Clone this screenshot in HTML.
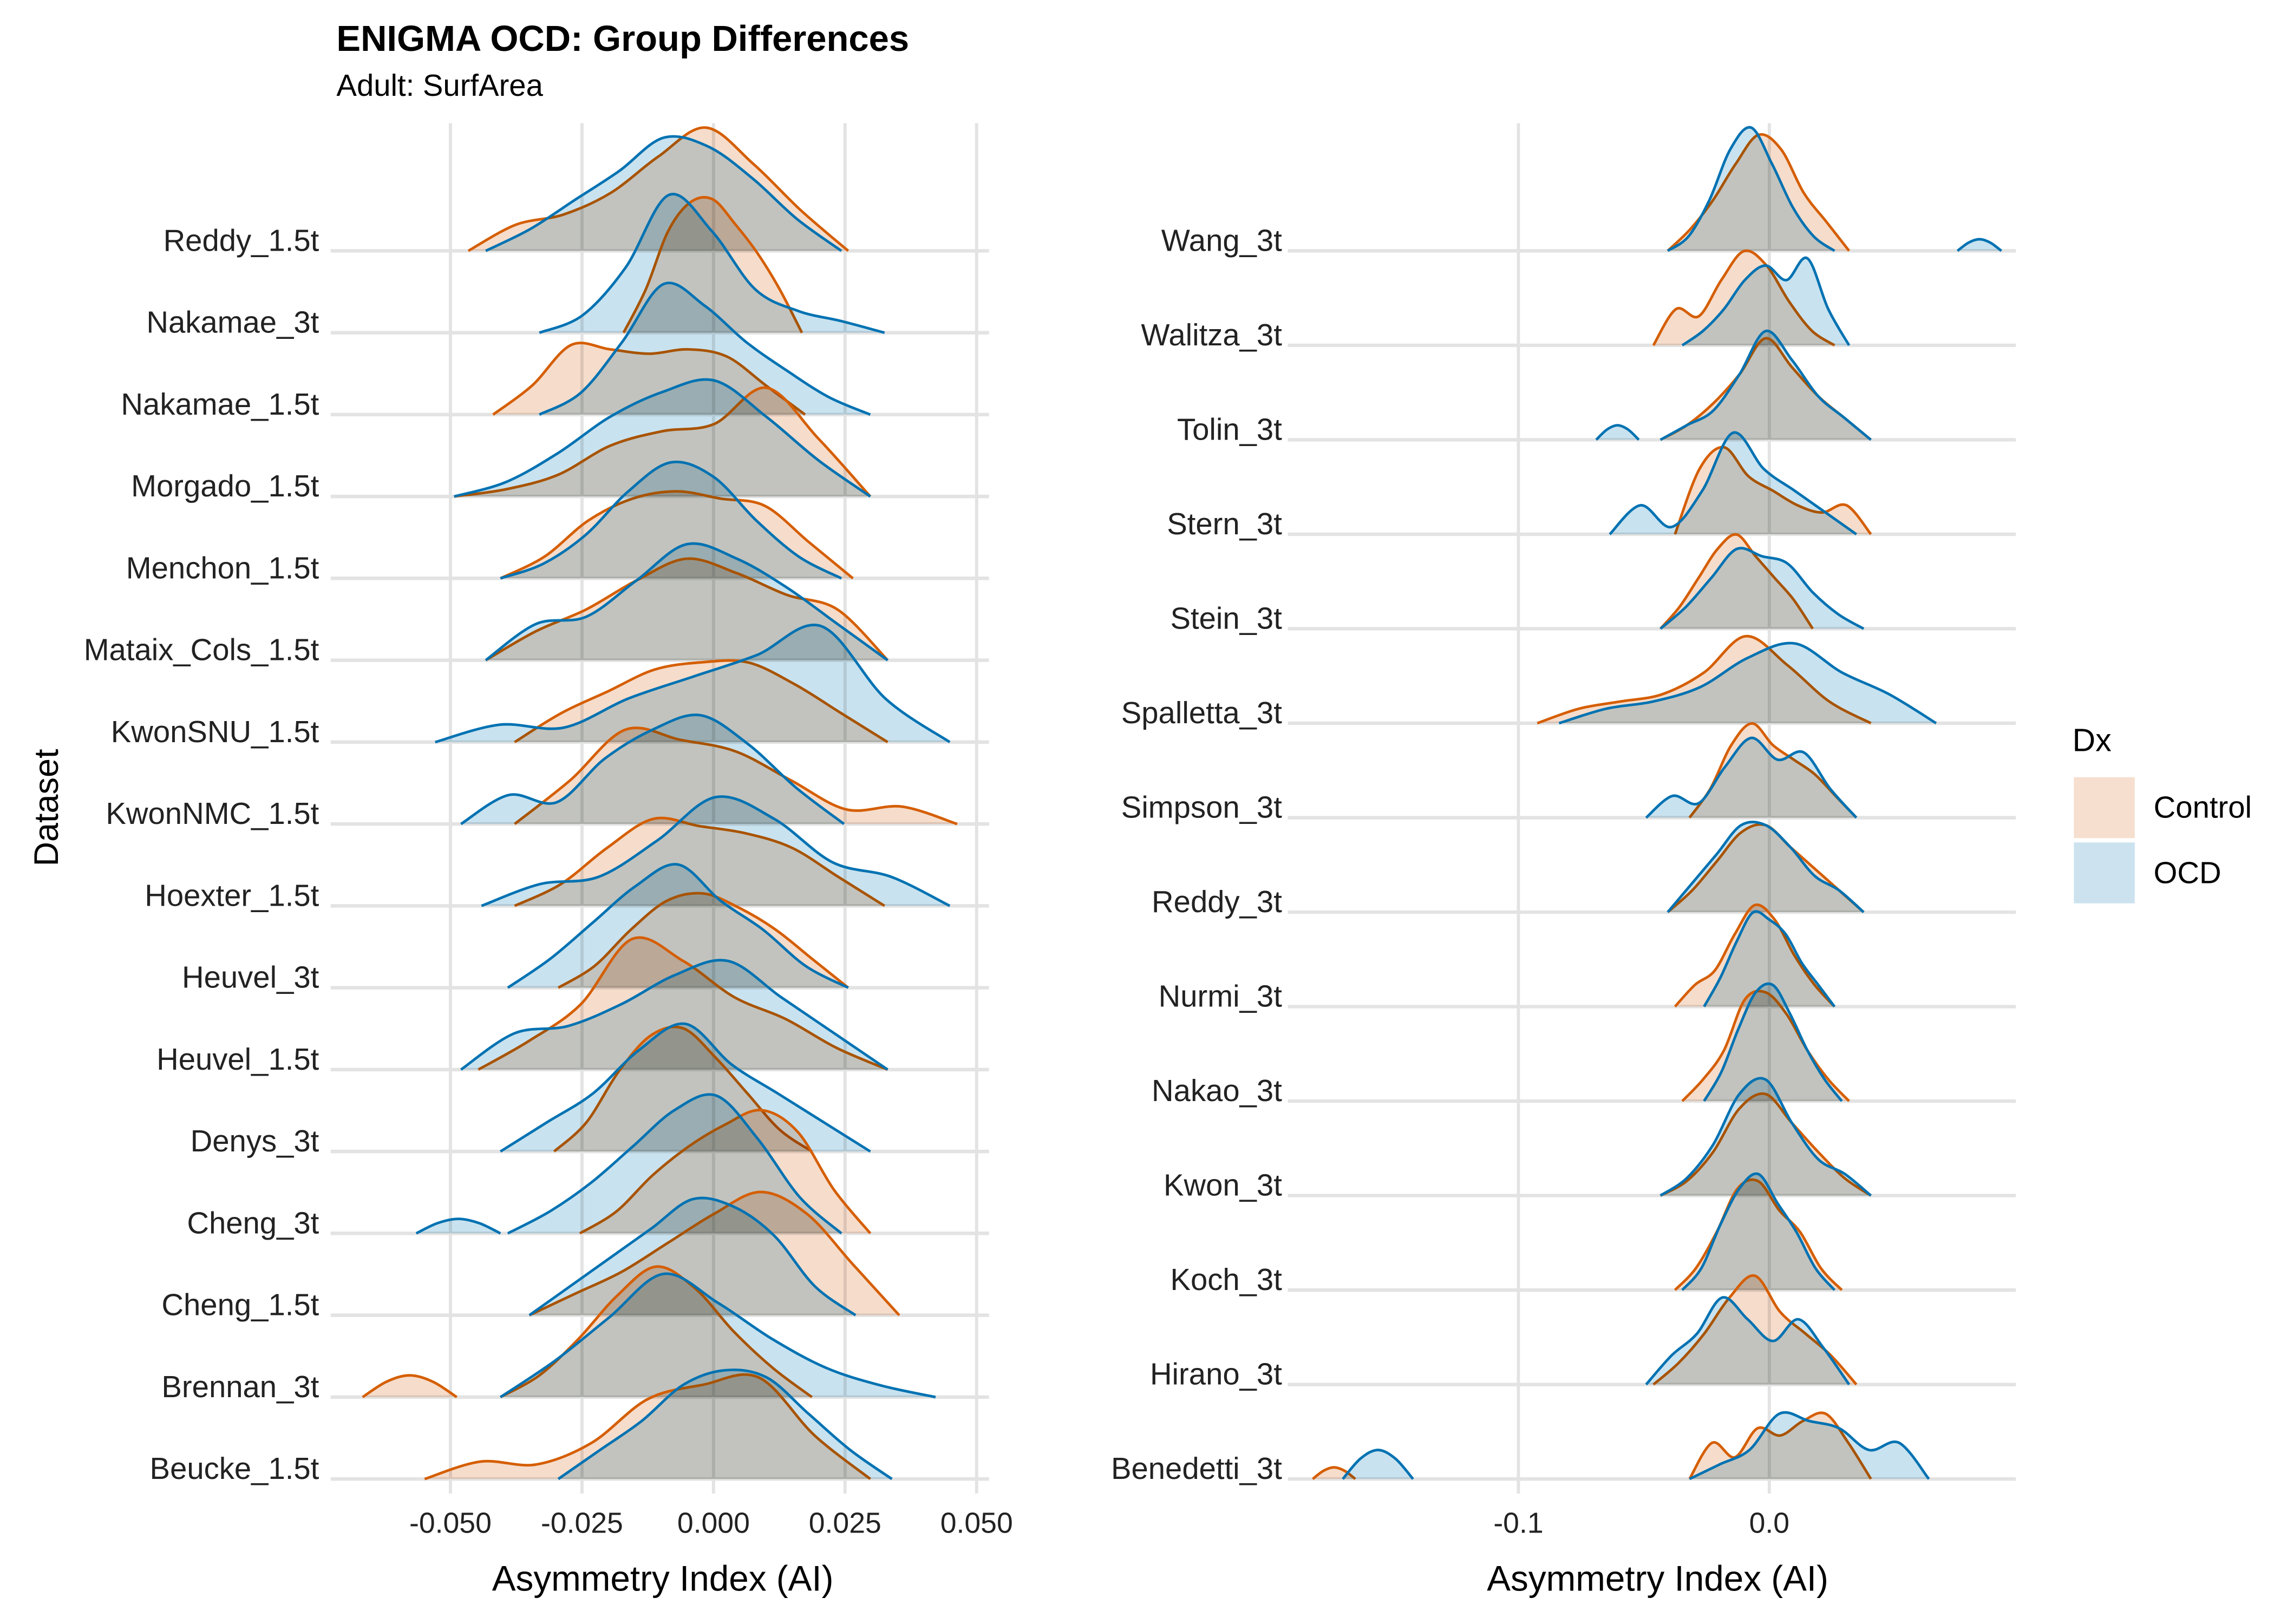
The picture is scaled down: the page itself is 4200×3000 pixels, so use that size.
<!DOCTYPE html>
<html><head><meta charset="utf-8"><style>
html,body{margin:0;padding:0;background:#fff;}
svg{display:block;font-family:"Liberation Sans",Arial,sans-serif;}
.fill-c{fill:#f6dccb;mix-blend-mode:multiply;}
.fill-o{fill:#c9e2ef;mix-blend-mode:multiply;}
</style></head><body>
<svg id="chart" width="4200" height="3000" viewBox="0 0 1568 1120" preserveAspectRatio="none" xmlns="http://www.w3.org/2000/svg">
<rect width="1568" height="1120" fill="#fff"/>
<text x="232" y="35" font-size="25" font-weight="bold">ENIGMA OCD: Group Differences</text>
<text x="232" y="66" font-size="21">Adult: SurfArea</text>
<text transform="translate(40,557) rotate(-90)" text-anchor="middle" font-size="23.5">Dataset</text>
<text x="457" y="1097" text-anchor="middle" font-size="24.5">Asymmetry Index (AI)</text>
<text x="1143" y="1097" text-anchor="middle" font-size="24.5">Asymmetry Index (AI)</text>
<g>
<text x="1429" y="518" font-size="22">Dx</text>
<rect x="1430" y="536" width="42" height="42" fill="#f6dfcf"/>
<rect x="1430" y="581" width="42" height="42" fill="#cce3ef"/>
<text x="1485" y="564" font-size="21">Control</text>
<text x="1485" y="609" font-size="21">OCD</text>
</g>
<g id="grid"></g>
<g id="marks"></g>
<g id="labels"></g>
</svg>
<script>
// ---------- Data ----------
const leftNames = ["Reddy_1.5t","Nakamae_3t","Nakamae_1.5t","Morgado_1.5t","Menchon_1.5t","Mataix_Cols_1.5t","KwonSNU_1.5t","KwonNMC_1.5t","Hoexter_1.5t","Heuvel_3t","Heuvel_1.5t","Denys_3t","Cheng_3t","Cheng_1.5t","Brennan_3t","Beucke_1.5t"];
const leftCtrlRange = [[-0.0466,0.0256],[-0.0171,0.0168],[-0.0419,0.0174],[-0.0493,0.0298],[-0.0405,0.0265],[-0.0433,0.0331],[-0.0378,0.0331],[-0.0378,0.0463],[-0.0378,0.0325],[-0.0295,0.0256],[-0.0447,0.0331],[-0.0303,0.0187],[-0.0254,0.0298],[-0.035,0.0353],[-0.0405,0.0187],[-0.0549,0.0298]];
const leftCtrlDens = [[0,18,25,40,65,85,60,28,0],[0,30,70,90,92,75,55,30,0],[0,20,48,45,42,45,40,20,0],[0,5,15,35,45,50,75,40,0],[0,15,40,55,60,55,50,25,0],[0,20,35,55,70,60,45,35,0],[0,20,35,50,55,55,40,20,0],[0,30,65,58,50,30,10,12,0],[0,15,40,60,55,50,40,20,0],[0,15,40,60,65,55,40,20,0],[0,20,45,90,75,50,35,15,0],[0,20,55,80,85,65,40,15,0],[0,15,40,60,75,85,70,30,0],[0,15,30,50,70,85,70,35,0],[0,15,40,70,90,75,45,20,0],[0,12,10,25,55,65,70,30,0]];
const leftOcdRange = [[-0.0433,0.0243],[-0.0331,0.0325],[-0.0331,0.0298],[-0.0493,0.0298],[-0.0405,0.0243],[-0.0433,0.0331],[-0.0529,0.0449],[-0.048,0.0248],[-0.0441,0.0449],[-0.0391,0.0256],[-0.048,0.0331],[-0.0405,0.0298],[-0.0391,0.0243],[-0.035,0.027],[-0.0405,0.0422],[-0.0295,0.0339]];
const leftOcdDens = [[0,15,35,55,78,72,50,22,0],[0,12,45,95,70,30,15,8,0],[0,15,50,90,75,50,30,12,0],[0,10,30,55,72,80,55,25,0],[0,10,30,60,80,70,40,15,0],[0,25,30,55,80,70,50,25,0],[0,12,10,30,45,60,80,30,0],[0,20,15,45,65,75,55,25,0],[0,15,20,45,75,60,30,20,0],[0,20,45,70,85,60,40,15,0],[0,25,30,45,65,75,50,25,0],[0,20,40,70,88,60,40,20,0],[0,15,35,60,85,95,65,25,0],[0,20,40,60,80,75,55,20,0],[0,25,55,85,65,40,20,8,0],[0,20,40,65,75,70,45,20,0]];

const rightNames = ["Wang_3t","Walitza_3t","Tolin_3t","Stern_3t","Stein_3t","Spalletta_3t","Simpson_3t","Reddy_3t","Nurmi_3t","Nakao_3t","Kwon_3t","Koch_3t","Hirano_3t","Benedetti_3t"];
const rightCtrlRange = [[-0.0405,0.0318],[-0.0462,0.026],[-0.0434,0.0405],[-0.0376,0.0405],[-0.0434,0.0173],[-0.0925,0.0405],[-0.0318,0.0347],[-0.0405,0.0376],[-0.0376,0.026],[-0.0347,0.0318],[-0.0434,0.0405],[-0.0376,0.0289],[-0.0462,0.0347],[-0.0318,0.0405]];
const rightCtrlDens = [[0,15,35,60,80,70,40,20,0],[0,25,20,45,65,55,30,10,0],[0,10,25,45,70,50,30,15,0],[0,45,60,40,30,20,15,20,0],[0,15,35,55,65,50,35,20,0],[0,10,15,20,35,60,40,15,0],[0,20,50,65,50,40,30,15,0],[0,15,35,55,60,45,30,15,0],[0,15,25,50,70,60,35,15,0],[0,15,35,70,75,60,35,15,0],[0,10,30,60,70,50,30,12,0],[0,15,40,70,75,55,40,15,0],[0,15,35,60,75,50,35,20,0],[0,25,15,35,30,40,45,25,0]];
const rightOcdRange = [[-0.0405,0.026],[-0.0347,0.0318],[-0.0434,0.0405],[-0.0636,0.0347],[-0.0434,0.0376],[-0.0838,0.0665],[-0.0491,0.0347],[-0.0405,0.0376],[-0.026,0.026],[-0.026,0.0289],[-0.0434,0.0405],[-0.0347,0.026],[-0.0491,0.0318],[-0.0318,0.0636]];
const rightOcdDens = [[0,10,35,70,85,60,30,10,0],[0,10,25,45,55,45,60,25,0],[0,10,20,45,75,55,30,15,0],[0,20,5,30,70,45,30,15,0],[0,15,35,55,50,45,25,10,0],[0,10,15,25,45,55,35,20,0],[0,15,10,35,55,40,45,20,0],[0,20,40,60,60,45,25,15,0],[0,20,45,65,60,50,30,15,0],[0,20,50,75,80,60,35,15,0],[0,12,35,70,80,50,25,15,0],[0,15,45,70,80,60,40,15,0],[0,20,35,60,45,30,45,25,0],[0,10,20,45,40,35,20,25,0]];

// small separated bumps: [panel, row, group, lo, hi, height]
const extraBumps = [["L",14,"c",-0.0667,-0.0488,15],["L",12,"o",-0.0565,-0.0405,10],["R",0,"o",0.075,0.0925,8],["R",2,"o",-0.069,-0.052,10],["R",13,"c",-0.182,-0.165,8],["R",13,"o",-0.170,-0.142,20]];

const leftTicks = [-0.05,-0.025,0,0.025,0.05];
const leftTickLabels = ["-0.050","-0.025","0.000","0.025","0.050"];
const rightTicks = [-0.1,0];
const rightTickLabels = ["-0.1","0.0"];

// ---------- Scales ----------
const NS="http://www.w3.org/2000/svg";
const panels = {
  L:{x:v=>492+v*3628, x0:228, x1:682, top:173, step:(1020-173)/15, labelX:220, names:leftNames},
  R:{x:v=>1220+v*1730, x0:888, x1:1390, top:173, step:(1020-173)/13, labelX:884, names:rightNames}
};
const yScale = (p,row)=>p.top+row*p.step;
const hScale = d=>d*1.0;

const grid=document.getElementById('grid'), marks=document.getElementById('marks'), labels=document.getElementById('labels');
function mk(tag,attrs,parent){const e=document.createElementNS(NS,tag);for(const k in attrs)e.setAttribute(k,attrs[k]);parent.appendChild(e);return e;}

function curvePath(p,row,lo,hi,dens){
  const n=dens.length, base=yScale(p,row);
  const pts=dens.map((d,i)=>[p.x(lo+(hi-lo)*i/(n-1)), base-hScale(d)]);
  let s=`M${pts[0][0]},${pts[0][1]}`;
  for(let i=0;i<n-1;i++){
    const p0=pts[Math.max(0,i-1)],p1=pts[i],p2=pts[i+1],p3=pts[Math.min(n-1,i+2)];
    let c1y=p1[1]+(p2[1]-p0[1])/6, c2y=p2[1]-(p3[1]-p1[1])/6;
    c1y=Math.min(c1y,base); c2y=Math.min(c2y,base);
    s+=` C${p1[0]+(p2[0]-p0[0])/6},${c1y} ${p2[0]-(p3[0]-p1[0])/6},${c2y} ${p2[0]},${p2[1]}`;
  }
  return s;
}

function drawGrid(key,ticks,tickLabels){
  const p=panels[key];
  ticks.forEach((t,i)=>{
    const l=mk('line',{x1:p.x(t),x2:p.x(t),y1:85,y2:1030,stroke:'#e3e3e3','stroke-width':2.2},grid);
    
    
    const tx=mk('text',{x:p.x(t),y:1057,'text-anchor':'middle','font-size':20,fill:'#222'},labels);
    tx.textContent=tickLabels[i];
    
    
  });
  p.names.forEach((nm,r)=>{
    const y=yScale(p,r);
    const l=mk('line',{x1:p.x0,x2:p.x1,y1:y,y2:y,stroke:'#e3e3e3','stroke-width':2.4},grid);
    
    
    const tx=mk('text',{x:p.labelX,y:y,'text-anchor':'end','font-size':21,fill:'#222'},labels);
    tx.textContent=nm;
    
    
  });
}

function drawCurve(p,row,lo,hi,dens,grp){
  const d=curvePath(p,row,lo,hi,dens);
  const f=mk('path',{d:d+' Z',class:grp==='c'?'fill-c':'fill-o'},marks);
  
  
  const s=mk('path',{d:d,fill:'none',stroke:grp==='c'?'#d55e00':'#0072b2','stroke-width':1.8},marks);
  
  
}

function drawPanel(key,cr,cd,orr,od){
  const p=panels[key];
  p.names.forEach((nm,r)=>{
    drawCurve(p,r,cr[r][0],cr[r][1],cd[r],'c');
    drawCurve(p,r,orr[r][0],orr[r][1],od[r],'o');
    extraBumps.filter(b=>b[0]===key&&b[1]===r).forEach(b=>{
      drawCurve(p,r,b[3],b[4],[0,b[5]*0.7,b[5],b[5]*0.7,0],b[2]);
    });
  });
}

drawGrid('L',leftTicks,leftTickLabels);
drawGrid('R',rightTicks,rightTickLabels);
drawPanel('L',leftCtrlRange,leftCtrlDens,leftOcdRange,leftOcdDens);
drawPanel('R',rightCtrlRange,rightCtrlDens,rightOcdRange,rightOcdDens);
</script>
</body></html>
